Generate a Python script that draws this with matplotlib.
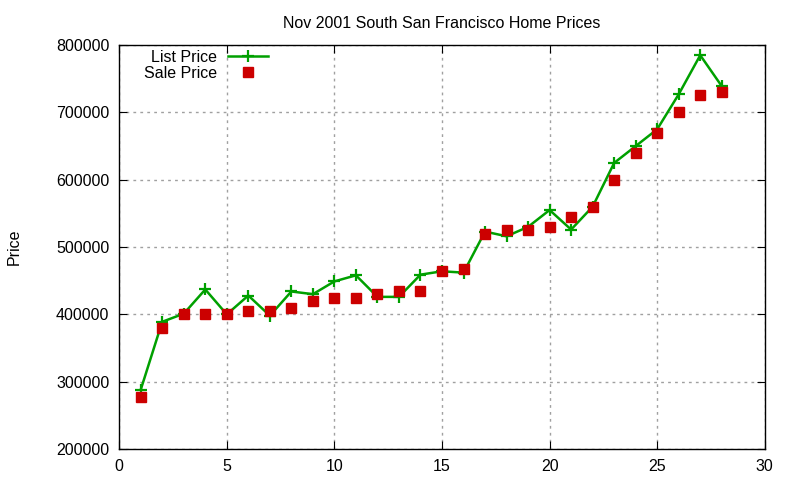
import matplotlib.pyplot as plt
import numpy as np

plt.rcParams['font.family'] = ['Liberation Sans', 'DejaVu Sans']

# data
house = list(range(1, 29))
list_price = [288000, 389000, 401000, 437000, 400000, 428000, 398000, 434000, 430000, 449000,
              458000, 426000, 426000, 459000, 464000, 462000, 523000, 516000, 530000, 555000,
              526000, 560000, 625000, 650000, 675000, 727000, 785000, 739000]
sale_price = [277000, 380000, 400000, 400000, 400000, 405000, 405000, 410000, 420000, 425000,
              425000, 430000, 435000, 435000, 465000, 468000, 520000, 526000, 526000, 530000,
              545000, 560000, 600000, 640000, 670000, 700000, 726000, 730000]

fig = plt.figure(figsize=(8, 4.8), dpi=100)
ax = fig.add_axes([0.149, 0.0646, 0.807, 0.8414])

ax.plot(house, list_price, color='#00a000', lw=1.8, marker='+', ms=8, mew=1.6,
        label='List Price')
ax.plot(house, sale_price, ls='none', color='#cc0000', marker='s', ms=7,
        label='Sale Price')

ax.set_xlim(0, 30)
ax.set_ylim(200000, 800000)
ax.set_xticks(range(0, 31, 5))
ax.set_yticks(range(200000, 800001, 100000))
ax.ticklabel_format(style='plain', axis='y')
ax.tick_params(direction='in', top=True, right=True, labelsize=11.5, length=6, pad=7)
ax.grid(True, color='#a0a0a0', ls=(0, (2, 3)), lw=1)
for s in ax.spines.values():
    s.set_linewidth(1)

ax.set_title('Nov 2001 South San Francisco Home Prices', fontsize=11.5, pad=12)
ax.set_ylabel('Price', fontsize=11.5, labelpad=25)

leg = ax.legend(loc='upper left', bbox_to_anchor=(0.023, 1.012), frameon=False, markerfirst=False,
                fontsize=11.5, handlelength=2.5, handletextpad=0.7, labelspacing=0.05,
                borderaxespad=0.2)
for t in leg.get_texts():
    t.set_ha('right')

fig.savefig('out.png')
